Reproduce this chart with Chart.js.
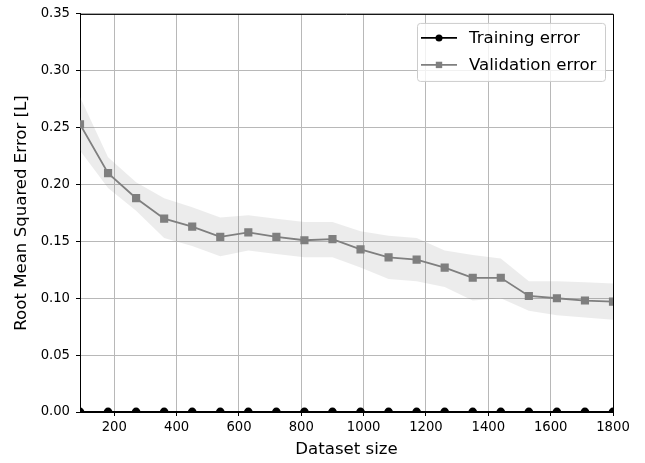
<!DOCTYPE html>
<html>
<head>
<meta charset="utf-8">
<title>Learning curve</title>
<script src="https://cdn.jsdelivr.net/npm/chart.js@4.4.1/dist/chart.umd.min.js"></script>
<style>
  html, body { margin: 0; padding: 0; background: #fff; }
  #wrap { width: 645px; height: 463px; }
</style>
</head>
<body>
<div id="wrap"><canvas id="chart-curva" width="645" height="463"></canvas></div>
<script>
// Learning curve: training vs validation error

const datasetSizes = [90, 180, 270, 360, 450, 540, 630, 720, 810, 900,
                      990, 1080, 1170, 1260, 1350, 1440, 1530, 1620, 1710, 1800];
const trainingError = [0, 0, 0, 0, 0, 0, 0, 0, 0, 0,
                       0, 0, 0, 0, 0, 0, 0, 0, 0, 0];
const validationError = [0.253, 0.210, 0.188, 0.170, 0.163, 0.154, 0.158, 0.154, 0.151, 0.152,
                         0.143, 0.136, 0.134, 0.127, 0.118, 0.118, 0.102, 0.100, 0.098, 0.097];
const validationUpper = [0.277, 0.224, 0.202, 0.188, 0.180, 0.171, 0.173, 0.170, 0.167, 0.167,
                         0.159, 0.155, 0.153, 0.142, 0.138, 0.135, 0.115, 0.115, 0.114, 0.113];
const validationLower = [0.230, 0.197, 0.177, 0.153, 0.146, 0.137, 0.142, 0.139, 0.136, 0.136,
                         0.127, 0.117, 0.115, 0.110, 0.098, 0.100, 0.089, 0.085, 0.083, 0.081];
const xTicks = [200, 400, 600, 800, 1000, 1200, 1400, 1600, 1800];
const yTicks = [0, 0.05, 0.10, 0.15, 0.20, 0.25, 0.30, 0.35];
const legendLabels = ['Training error', 'Validation error'];

const fonteTicks = { family: '"DejaVu Sans", sans-serif', size: 13.2 };
const fonteTitulo = { family: '"DejaVu Sans", sans-serif', size: 16.6 };

function pontos(ys) {
    return datasetSizes.map((x, i) => ({ x: x, y: ys[i] }));
}

// top/right spines + matplotlib style legend box
const molduraLegenda = {
    id: 'molduraLegenda',
    afterDraw(chart) {
        const { ctx, chartArea: a } = chart;
        ctx.save();
        ctx.strokeStyle = '#000';
        ctx.lineWidth = 1;
        ctx.beginPath();
        ctx.moveTo(a.left, a.top + 0.5);
        ctx.lineTo(a.right + 0.5, a.top + 0.5);
        ctx.lineTo(a.right + 0.5, a.bottom);
        ctx.stroke();

        const bw = 188, bh = 58;
        const bx = a.right - 8 - bw, by = a.top + 9;
        ctx.fillStyle = 'rgba(255,255,255,0.8)';
        ctx.strokeStyle = '#cccccc';
        ctx.beginPath();
        ctx.roundRect(bx + 0.5, by + 0.5, bw, bh, 3);
        ctx.fill();
        ctx.stroke();

        const estilos = [
            { cor: '#000000', forma: 'circle' },
            { cor: '#7f7f7f', forma: 'rect' }
        ];
        ctx.font = '16.6px "DejaVu Sans", sans-serif';
        ctx.textBaseline = 'middle';
        legendLabels.forEach((txt, i) => {
            const y = by + 15 + i * 27;
            const s = estilos[i];
            ctx.strokeStyle = s.cor;
            ctx.fillStyle = s.cor;
            ctx.lineWidth = 1.8;
            ctx.beginPath();
            ctx.moveTo(bx + 4, y);
            ctx.lineTo(bx + 40, y);
            ctx.stroke();
            ctx.beginPath();
            if (s.forma === 'circle') {
                ctx.arc(bx + 22, y, 3.5, 0, Math.PI * 2);
            } else {
                ctx.rect(bx + 22 - 3.2, y - 3.2, 6.4, 6.4);
            }
            ctx.fill();
            ctx.fillStyle = '#000';
            ctx.fillText(txt, bx + 52, y + 1);
        });
        ctx.restore();
    }
};

function criarGrafico() {
    const el = document.getElementById('chart-curva');
    const ctx = el.getContext('2d');
    new Chart(ctx, {
        type: 'line',
        data: {
            datasets: [
                {
                    label: 'lower',
                    data: pontos(validationLower),
                    borderWidth: 0,
                    pointRadius: 0,
                    fill: false,
                    clip: 0
                },
                {
                    label: 'upper',
                    data: pontos(validationUpper),
                    borderWidth: 0,
                    pointRadius: 0,
                    backgroundColor: 'rgba(128,128,128,0.15)',
                    fill: '-1',
                    clip: 0
                },
                {
                    label: legendLabels[1],
                    data: pontos(validationError),
                    borderColor: '#7f7f7f',
                    backgroundColor: '#7f7f7f',
                    borderWidth: 1.8,
                    pointStyle: 'rect',
                    pointRadius: 4.5,
                    fill: false,
                    clip: 0
                },
                {
                    label: legendLabels[0],
                    data: pontos(trainingError),
                    borderColor: '#000000',
                    backgroundColor: '#000000',
                    borderWidth: 1.8,
                    pointStyle: 'circle',
                    pointRadius: 3.5,
                    fill: false,
                    clip: 0
                }
            ]
        },
        options: {
            responsive: false,
            devicePixelRatio: 1,
            animation: false,
            layout: { padding: { left: 0, right: 32, top: 12, bottom: 0 } },
            plugins: { legend: { display: false }, tooltip: { enabled: false } },
            scales: {
                x: {
                    type: 'linear',
                    min: 90,
                    max: 1800,
                    afterBuildTicks: s => { s.ticks = xTicks.map(v => ({ value: v })); },
                    afterFit: s => { s.height = 51; },
                    grid: { color: '#b8b8b8', lineWidth: 1, tickLength: 4, tickColor: '#000' },
                    border: { color: '#000', width: 1 },
                    ticks: { font: fonteTicks, color: '#000', padding: 4, maxRotation: 0, callback: v => String(v) },
                    title: { display: true, text: 'Dataset size', font: fonteTitulo, color: '#000', padding: { top: 0, bottom: 3 } }
                },
                y: {
                    min: 0,
                    max: 0.35,
                    afterBuildTicks: s => { s.ticks = yTicks.map(v => ({ value: v })); },
                    afterFit: s => { s.width = 80; },
                    grid: { color: '#b8b8b8', lineWidth: 1, tickLength: 4, tickColor: '#000' },
                    border: { color: '#000', width: 1 },
                    ticks: { font: fonteTicks, color: '#000', padding: 6, callback: v => v.toFixed(2) },
                    title: { display: true, text: 'Root Mean Squared Error [L]', font: fonteTitulo, color: '#000', padding: { top: 12, bottom: 0 } }
                }
            }
        },
        plugins: [molduraLegenda]
    });
}

window.addEventListener('DOMContentLoaded', criarGrafico);
</script>
</body>
</html>
